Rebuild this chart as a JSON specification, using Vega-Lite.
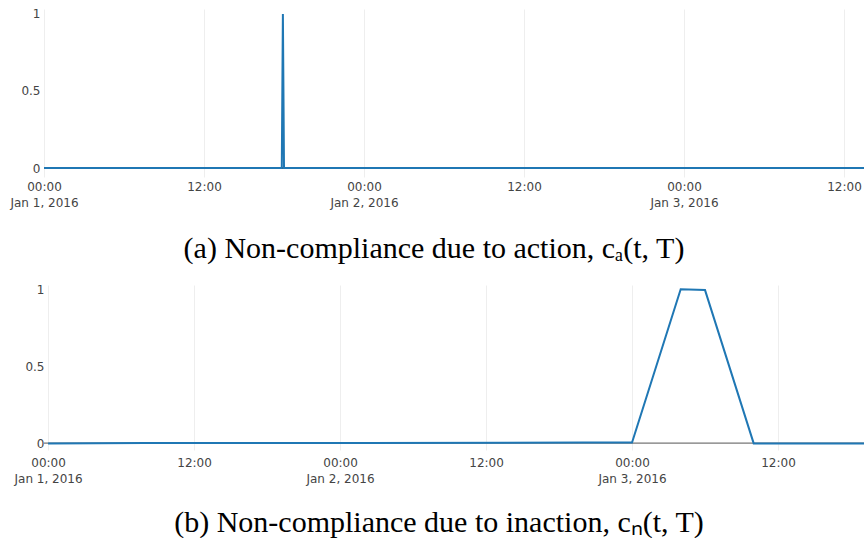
{
  "$schema": "https://vega.github.io/schema/vega-lite/v6.json",
  "background": "white",
  "padding": {"left": 9, "top": 7, "right": 0, "bottom": 0},
  "config": {
    "view": {"stroke": null},
    "axis": {
      "labelFont": "DejaVu Sans",
      "labelFontSize": 12,
      "labelColor": "#444",
      "gridColor": "#eee",
      "gridWidth": 1,
      "domain": false,
      "ticks": false
    },
    "title": {"font": "Liberation Serif", "fontSize": 30, "fontWeight": "normal", "color": "#000"},
    "concat": {"spacing": 19}
  },
  "datasets": {
    "action": [
      {"t": "2016-01-01T00:00:00Z", "v": 0},
      {"t": "2016-01-01T17:50:00Z", "v": 0},
      {"t": "2016-01-01T17:55:00Z", "v": 1},
      {"t": "2016-01-01T18:00:00Z", "v": 0},
      {"t": "2016-01-03T13:30:00Z", "v": 0}
    ],
    "inaction": [
      {"t": "2016-01-01T00:00:00Z", "v": 0},
      {"t": "2016-01-01T08:00:00Z", "v": 0.002},
      {"t": "2016-01-02T02:00:00Z", "v": 0.003},
      {"t": "2016-01-02T20:00:00Z", "v": 0.005},
      {"t": "2016-01-03T00:00:00Z", "v": 0.005},
      {"t": "2016-01-03T04:00:00Z", "v": 1},
      {"t": "2016-01-03T06:00:00Z", "v": 0.995},
      {"t": "2016-01-03T10:00:00Z", "v": 0},
      {"t": "2016-01-03T19:04:00Z", "v": 0}
    ]
  },
  "vconcat": [
    {
      "width": 820,
      "height": 168,
      "title": {"text": "(a) Non-compliance due to action, cₐ(t, T)", "orient": "bottom", "offset": 26, "dx": -20},
      "data": {"name": "action"},
      "layer": [
        {
          "mark": {"type": "rule", "color": "#444", "strokeWidth": 1},
          "encoding": {"y": {"datum": 0, "type": "quantitative"}}
        },
        {
          "mark": {"type": "line", "color": "#1f77b4", "strokeWidth": 2, "strokeJoin": "miter"},
          "encoding": {
            "x": {
              "field": "t", "type": "temporal",
              "scale": {"type": "utc", "domain": [
                {"year": 2016, "month": 1, "date": 1, "hours": 0, "utc": true},
                {"year": 2016, "month": 1, "date": 3, "hours": 13, "minutes": 30, "utc": true}
              ]},
              "axis": {
                "title": null,
                "values": [
                  {"year": 2016, "month": 1, "date": 1, "hours": 0, "utc": true},
                  {"year": 2016, "month": 1, "date": 1, "hours": 12, "utc": true},
                  {"year": 2016, "month": 1, "date": 2, "hours": 0, "utc": true},
                  {"year": 2016, "month": 1, "date": 2, "hours": 12, "utc": true},
                  {"year": 2016, "month": 1, "date": 3, "hours": 0, "utc": true},
                  {"year": 2016, "month": 1, "date": 3, "hours": 12, "utc": true}
                ],
                "labelExpr": "utcFormat(datum.value, '%H') == '00' ? [utcFormat(datum.value, '%H:%M'), utcFormat(datum.value, '%b %-d, %Y')] : utcFormat(datum.value, '%H:%M')",
                "labelLineHeight": 16,
                "labelPadding": 4,
                "labelFlush": false,
                "labelOverlap": false
              }
            },
            "y": {
              "field": "v", "type": "quantitative",
              "scale": {"domain": [-0.058, 1.032], "nice": false, "zero": false},
              "axis": {"title": null, "values": [0, 0.5, 1], "format": "~g", "labelPadding": 4}
            }
          }
        }
      ]
    },
    {
      "width": 820,
      "height": 165,
      "title": {"text": "(b) Non-compliance due to inaction, cₙ(t, T)", "orient": "bottom", "offset": 24, "dx": -15},
      "data": {"name": "inaction"},
      "layer": [
        {
          "mark": {"type": "rule", "color": "#999", "strokeWidth": 1},
          "encoding": {"y": {"datum": 0, "type": "quantitative"}}
        },
        {
          "mark": {"type": "line", "color": "#1f77b4", "strokeWidth": 2, "strokeJoin": "miter"},
          "encoding": {
            "x": {
              "field": "t", "type": "temporal",
              "scale": {"type": "utc", "domain": [
                {"year": 2015, "month": 12, "date": 31, "hours": 23, "minutes": 40, "utc": true},
                {"year": 2016, "month": 1, "date": 3, "hours": 19, "minutes": 4, "utc": true}
              ]},
              "axis": {
                "title": null,
                "values": [
                  {"year": 2016, "month": 1, "date": 1, "hours": 0, "utc": true},
                  {"year": 2016, "month": 1, "date": 1, "hours": 12, "utc": true},
                  {"year": 2016, "month": 1, "date": 2, "hours": 0, "utc": true},
                  {"year": 2016, "month": 1, "date": 2, "hours": 12, "utc": true},
                  {"year": 2016, "month": 1, "date": 3, "hours": 0, "utc": true},
                  {"year": 2016, "month": 1, "date": 3, "hours": 12, "utc": true}
                ],
                "labelExpr": "utcFormat(datum.value, '%H') == '00' ? [utcFormat(datum.value, '%H:%M'), utcFormat(datum.value, '%b %-d, %Y')] : utcFormat(datum.value, '%H:%M')",
                "labelLineHeight": 16,
                "labelPadding": 7,
                "labelFlush": false,
                "labelOverlap": false
              }
            },
            "y": {
              "field": "v", "type": "quantitative",
              "scale": {"domain": [-0.043, 1.028], "nice": false, "zero": false},
              "axis": {"title": null, "offset": -4, "values": [0, 0.5, 1], "format": "~g", "labelPadding": 4}
            }
          }
        }
      ]
    }
  ]
}
